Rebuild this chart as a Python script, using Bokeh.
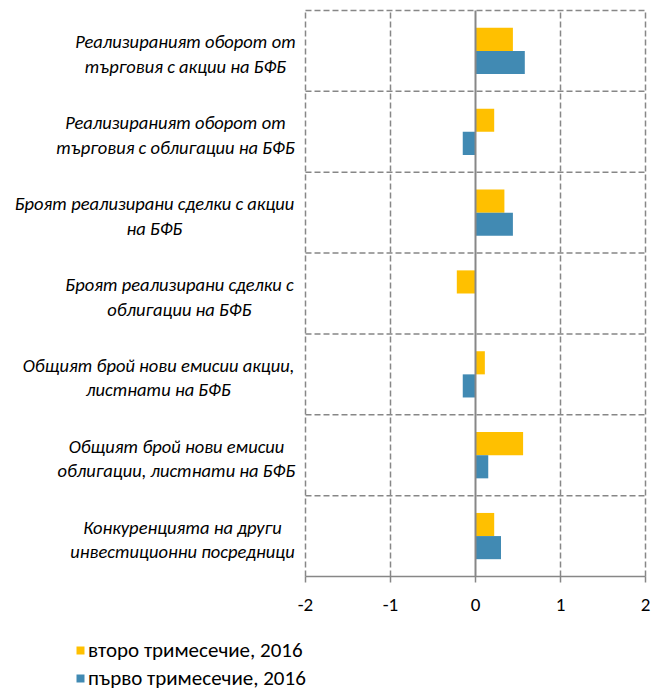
from bokeh.plotting import figure
from bokeh.models import (ColumnDataSource, FixedTicker, LabelSet,
                          Legend, LegendItem)
from bokeh.core.properties import value
from bokeh.embed import file_html
from bokeh.resources import INLINE

# Survey indicators (top to bottom), with line breaks as printed
categories = [
    "Реализираният оборот от\nтърговия с акции на БФБ",
    "Реализираният оборот от\nтърговия с облигации на БФБ",
    "Броят реализирани сделки с акции\nна БФБ",
    "Броят реализирани сделки с\nоблигации на БФБ",
    "Общият брой нови емисии акции,\nлистнати на БФБ",
    "Общият брой нови емисии\nоблигации, листнати на БФБ",
    "Конкуренцията на други\nинвестиционни посредници",
]
q2_2016 = [0.44, 0.22, 0.34, -0.22, 0.11, 0.56, 0.22]
q1_2016 = [0.58, -0.15, 0.44, 0.00, -0.15, 0.15, 0.30]
series_names = ["второ тримесечие, 2016", "първо тримесечие, 2016"]
x_ticks = [-2, -1, 0, 1, 2]

YELLOW = "#FFC000"
BLUE = "#418AB3"
GRID = "#878787"
FONT = "Carlito, Lato"

W, H = 652, 690
# plot area inside the canvas (pixels)
AREA_L, AREA_R, AREA_T, AREA_B = 305, 645, 10, 576

n = len(categories)
xmin, xmax = x_ticks[0], x_ticks[-1]
ymin, ymax = -0.5, n - 0.5
px_x = (AREA_R - AREA_L) / (xmax - xmin)
px_y = (AREA_B - AREA_T) / (ymax - ymin)

# the frame covers the whole canvas, so the label column and legend
# sit inside it; the value scale is stretched to keep -2..2 in the area
x_range = (xmin - AREA_L / px_x, xmax + (W - AREA_R) / px_x)
y_range = (ymin - (H - AREA_B) / px_y, ymax + AREA_T / px_y)

centers = [n - 1 - i for i in range(n)]
bar_h = 0.286

src = ColumnDataSource(dict(
    y_q2=[c + bar_h / 2 for c in centers],
    y_q1=[c - bar_h / 2 for c in centers],
    q2=q2_2016, q1=q1_2016,
))

p = figure(width=W, height=H, x_range=x_range, y_range=y_range,
           output_backend="svg", toolbar_location=None, min_border=0)
p.outline_line_color = None
p.xgrid.visible = False
p.ygrid.visible = False
p.yaxis.visible = False

# value axis drawn along the bottom of the plot area
ax = p.xaxis[0]
ax.fixed_location = ymin
ax.bounds = (xmin, xmax)
ax.ticker = FixedTicker(ticks=x_ticks)
ax.major_label_overrides = {t: str(t) for t in x_ticks}
ax.axis_line_color = GRID
ax.axis_line_width = 1.5
ax.major_tick_line_color = GRID
ax.major_tick_line_width = 1.5
ax.major_tick_out = 6
ax.major_tick_in = 0
ax.minor_tick_line_color = None
ax.major_label_text_font = FONT
ax.major_label_text_font_size = "19px"
ax.major_label_text_color = "black"
ax.major_label_standoff = 16

# dashed grid: vertical lines at the value ticks, horizontal between categories
grid_x = [t for t in x_ticks if t != 0]
p.segment(x0=grid_x, x1=grid_x, y0=ymin, y1=ymax,
          line_color=GRID, line_width=1.5, line_dash="6 3")
bounds_y = [k - 0.5 for k in range(1, n + 1)]
p.segment(x0=xmin, x1=xmax, y0=bounds_y, y1=bounds_y,
          line_color=GRID, line_width=1.5, line_dash="6 3")

r_q2 = p.hbar(y="y_q2", right="q2", left=0, height=bar_h, source=src,
              fill_color=YELLOW, line_color=None)
r_q1 = p.hbar(y="y_q1", right="q1", left=0, height=bar_h, source=src,
              fill_color=BLUE, line_color=None)

# zero line
p.segment(x0=[0], x1=[0], y0=ymin, y1=ymax, line_color=GRID, line_width=2)

# category labels: two centred lines per block
block_center_px = [185, 175, 154, 179, 158, 176, 182]
ly, lx, lt, loff = [], [], [], []
for c, cat, bx in zip(centers, categories, block_center_px):
    for j, line in enumerate(cat.split("\n")):
        ly.append(c)
        lx.append(bx)
        lt.append(line)
        loff.append(9 - 24.5 * j)
lab_src = ColumnDataSource(dict(x=lx, y=ly, text=lt, off=loff))
labels = LabelSet(x="x", y="y", text="text", y_offset="off",
                  x_units="screen", y_units="data", source=lab_src,
                  text_align="center", text_baseline="middle",
                  text_font=value(FONT), text_font_style="italic",
                  text_font_size="18.5px", text_color="black")
p.add_layout(labels)

legend = Legend(items=[LegendItem(label=series_names[0], renderers=[r_q2]),
                       LegendItem(label=series_names[1], renderers=[r_q1])],
                location=(75, -1), orientation="vertical",
                glyph_width=10, glyph_height=10, label_height=26,
                spacing=2, padding=0, margin=0, label_standoff=3,
                border_line_color=None, background_fill_alpha=0,
                label_text_font=FONT, label_text_font_size="21px",
                label_text_color="black")
p.add_layout(legend)

open("out.html", "w").write(file_html(p, INLINE))
